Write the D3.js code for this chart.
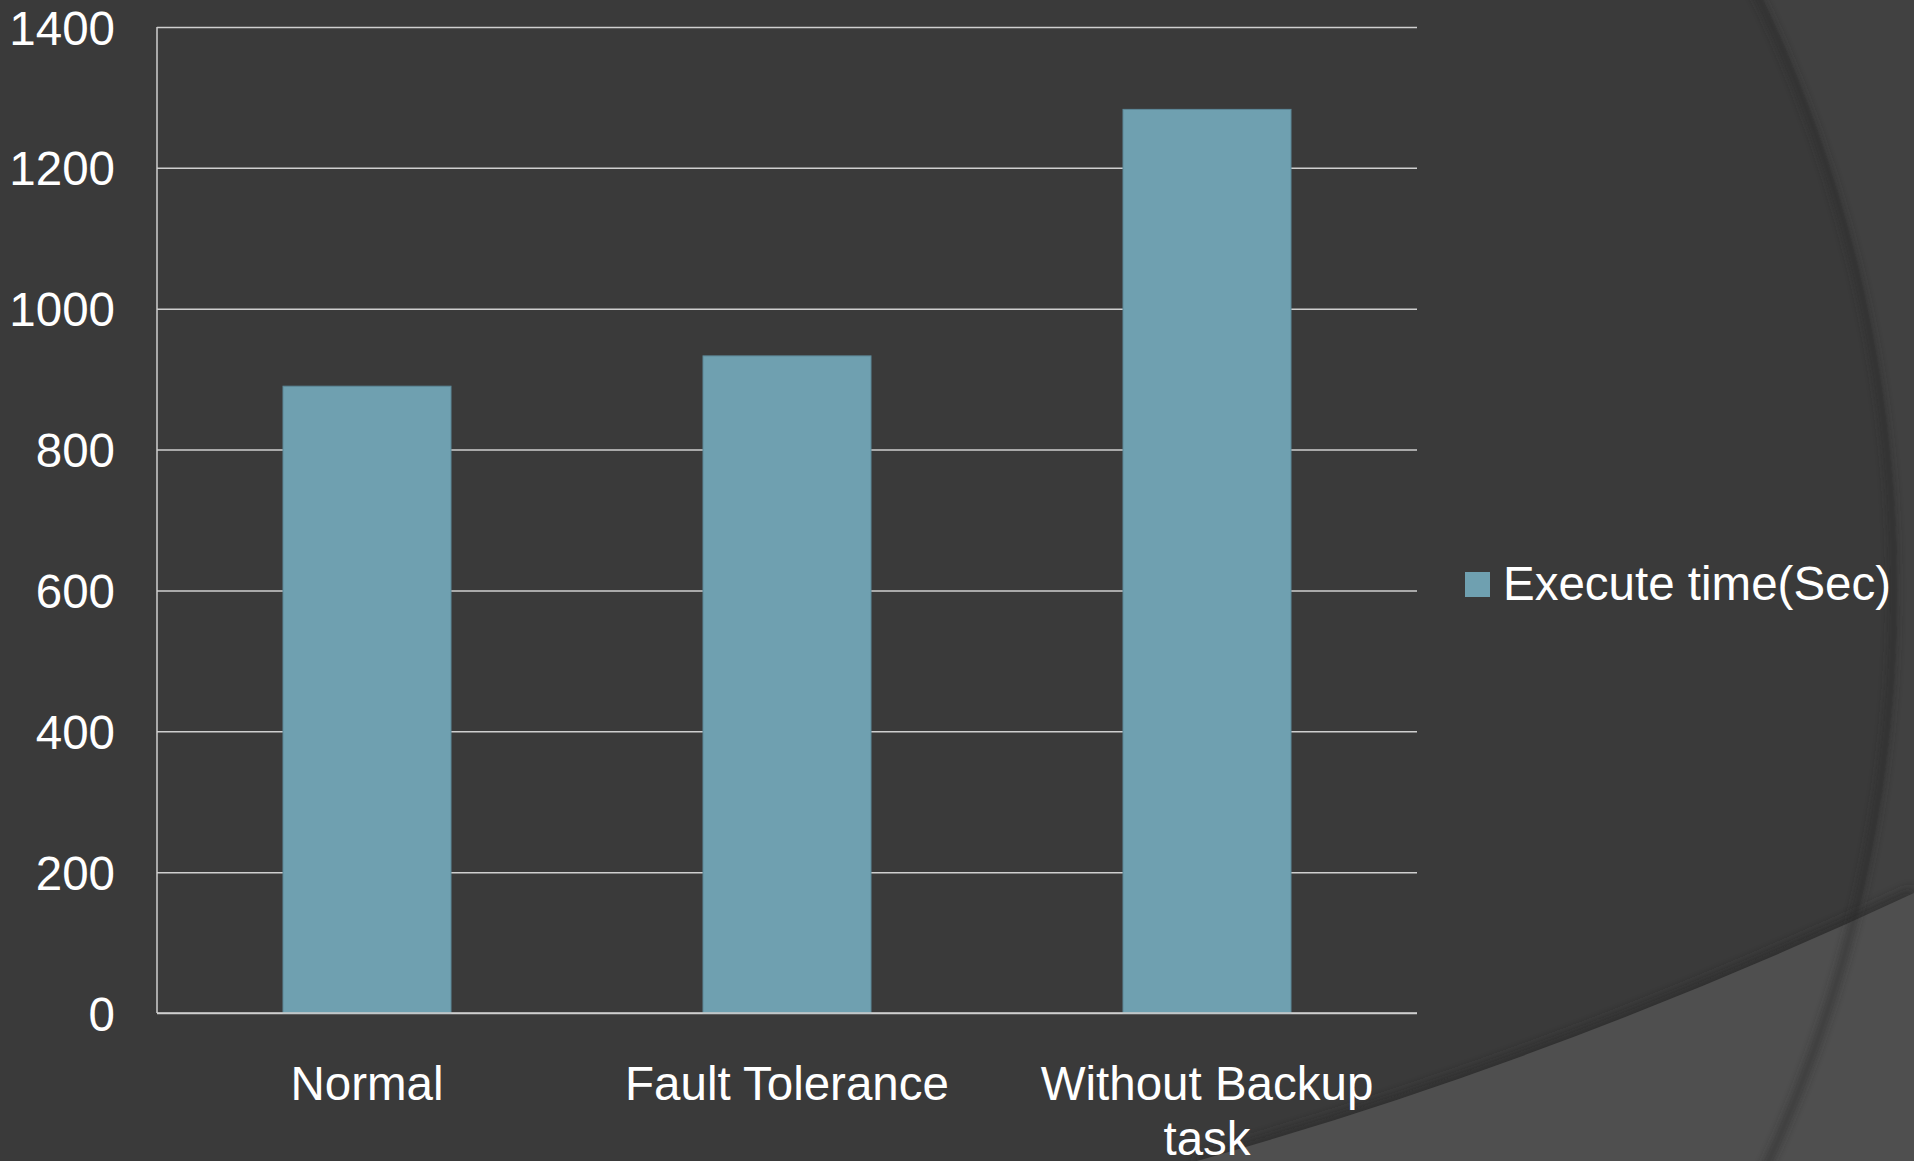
<!DOCTYPE html>
<html>
<head>
<meta charset="utf-8">
<script src="https://cdn.jsdelivr.net/npm/d3@7"></script>
<style>
  html, body { margin: 0; padding: 0; background: #3a3a3a; overflow: hidden; }
  svg { display: block; }
  text { font-family: "Liberation Sans", Arial, Helvetica, sans-serif; }
</style>
</head>
<body>
<svg id="chart" width="1914" height="1161"></svg>
<script>
const categories = ["Normal", "Fault Tolerance", "Without Backup task"];
const categoryLines = [["Normal"], ["Fault Tolerance"], ["Without Backup", "task"]];
const values = [890, 933, 1283];
const seriesName = "Execute time(Sec)";
const yTicks = [0, 200, 400, 600, 800, 1000, 1200, 1400];

const W = 1914, H = 1161;
const FS = 47.5;
const svg = d3.select("#chart");

// Background decorations
const defs = svg.append("defs");
defs.append("filter").attr("id", "blur6").attr("x", "-10%").attr("y", "-10%").attr("width", "120%").attr("height", "120%")
  .append("feGaussianBlur").attr("stdDeviation", 6);
defs.append("filter").attr("id", "blur3").attr("x", "-10%").attr("y", "-10%").attr("width", "120%").attr("height", "120%")
  .append("feGaussianBlur").attr("stdDeviation", 4);

svg.append("rect").attr("width", W).attr("height", H).attr("fill", "#414141");
const circ = { cx: 531, cy: 590, r: 1366 };
svg.append("circle").attr("cx", circ.cx).attr("cy", circ.cy).attr("r", circ.r).attr("fill", "#3a3a3a");

const wedge = "M1197,1161 Q1554,1061 1914,893 L1914,1161 Z";
svg.append("path").attr("d", "M1197,1161 Q1554,1061 1914,893")
  .attr("fill", "none").attr("stroke", "#2a2a2a").attr("stroke-width", 8).attr("filter", "url(#blur6)");
svg.append("path").attr("d", wedge).attr("fill", "#4f4f4f");
svg.append("circle").attr("cx", circ.cx).attr("cy", circ.cy).attr("r", circ.r - 3)
  .attr("fill", "none").attr("stroke", "#2c2c2c").attr("stroke-width", 6).attr("opacity", 0.7).attr("filter", "url(#blur3)");

// Scales
const plot = { left: 157, right: 1417, top: 27, bottom: 1013 };
const x = d3.scaleBand().domain(categories).range([plot.left, plot.right]).paddingInner(0.6).paddingOuter(0.3);
const y = d3.scaleLinear().domain([0, 1400]).range([plot.bottom, plot.top]);

// Gridlines + y labels
const yAxis = d3.axisLeft(y).tickValues(yTicks).tickFormat(d3.format("d"))
  .tickSize(-(plot.right - plot.left)).tickSizeOuter(0).tickPadding(42);
const gy = svg.append("g").attr("transform", `translate(${plot.left},0)`).call(yAxis);
gy.select(".domain").remove();
gy.attr("font-family", null);
gy.selectAll(".tick line").attr("stroke", "#cfcfcf").attr("stroke-width", 1.5);
gy.selectAll(".tick text").attr("fill", "#ffffff").attr("font-size", FS).attr("dy", "0.36em");

// Bars
svg.append("g").selectAll("rect").data(values).join("rect")
  .attr("x", (d, i) => x(categories[i]))
  .attr("y", d => y(d))
  .attr("width", x.bandwidth())
  .attr("height", d => y(0) - y(d))
  .attr("fill", "#6fa0b0")
  .attr("stroke", "#5d8898").attr("stroke-width", 1);

// Axis lines
svg.append("line").attr("x1", plot.left).attr("x2", plot.left).attr("y1", plot.top).attr("y2", plot.bottom)
  .attr("stroke", "#cfcfcf").attr("stroke-width", 1.5);
svg.append("line").attr("x1", plot.left).attr("x2", plot.right).attr("y1", plot.bottom).attr("y2", plot.bottom)
  .attr("stroke", "#cfcfcf").attr("stroke-width", 1.5);

// Category labels
const gx = svg.append("g");
categories.forEach((c, i) => {
  const t = gx.append("text")
    .attr("x", x(c) + x.bandwidth() / 2)
    .attr("y", 1100)
    .attr("text-anchor", "middle")
    .attr("fill", "#ffffff")
    .attr("font-size", FS);
  categoryLines[i].forEach((line, j) => {
    t.append("tspan").attr("x", x(c) + x.bandwidth() / 2).attr("dy", j === 0 ? 0 : 55).text(line);
  });
});

// Legend
const lg = svg.append("g");
lg.append("rect").attr("x", 1465).attr("y", 572).attr("width", 25).attr("height", 25).attr("fill", "#6fa0b0");
lg.append("text").attr("x", 1503).attr("y", 600).attr("fill", "#ffffff")
  .attr("font-size", FS).text(seriesName);
</script>
</body>
</html>
